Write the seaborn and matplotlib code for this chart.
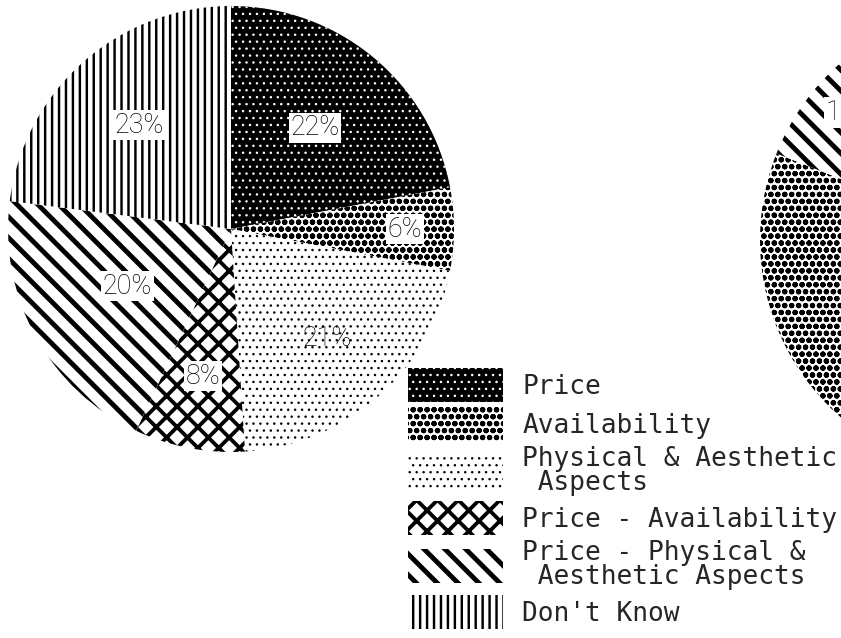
import matplotlib
matplotlib.use("Agg")
import matplotlib.pyplot as plt
import seaborn as sns
from matplotlib.font_manager import FontProperties

# ---------------- data ----------------
categories = ["Price", "Availability", "Physical & Aesthetic\n Aspects",
              "Price - Availability", "Price - Physical &\n Aesthetic Aspects",
              "Don't Know"]
left_values = [22, 6, 21, 8, 20, 23]
# right pie (mostly cut off by the page edge): category index, clockwise from top
right_order = [0, 2, 3, 1, 4, 5]
right_values = [24, 20, 9, 28, 11, 8]

# ---------------- style ----------------
face = ["black", "white", "white", "white", "white", "white"]
hatch_col = ["white", "black", "black", "black", "black", "black"]
hatches = ["...", "ooo", "...", "xx", "\\\\", "|||"]
hatch_lw = [0.6, 1.5, 0.6, 2.2, 2.8, 1.4]
left_lbl_dist = [0.59, 0.78, 0.65, 0.67, 0.53, 0.62]
right_lbl_dist = [0.6, 0.6, 0.6, 0.55, 0.82, 0.6]

sns.set_theme(style="white")
plt.rcParams["font.family"] = ["DejaVu Sans"]

DPI = 125
W, H = 841, 638
fig = plt.figure(figsize=((W + 0.3) / DPI, (H + 0.3) / DPI), dpi=DPI)
fig.patch.set_facecolor("white")
ax = fig.add_axes([0, 0, 1, 1])

pct_props = dict(family=["Roboto", "DejaVu Sans"], weight="light", size=15.5,
                 color="black")
box = dict(facecolor="white", edgecolor="none", pad=1.0)


def style_wedges(wedges, idx):
    for w, i in zip(wedges, idx):
        w.set_facecolor(face[i])
        w.set_edgecolor(hatch_col[i])
        w.set_linewidth(0)
        w.set_hatch(hatches[i])
        if hasattr(w, "set_hatch_linewidth"):
            w.set_hatch_linewidth(hatch_lw[i])


def place_labels(autotexts, center, dists, base=0.6):
    cx, cy = center
    for t, f in zip(autotexts, dists):
        x, y = t.get_position()
        t.set_position((cx + (x - cx) * f / base, cy + (y - cy) * f / base))
        t.set_bbox(box)


# left pie
lc = (231, H - 229)
lw_, _, lat = ax.pie(left_values, startangle=90, counterclock=False, center=lc,
                     radius=223, autopct=lambda p: f"{p:.0f}%", pctdistance=0.6,
                     textprops=pct_props, wedgeprops=dict(linewidth=0))
style_wedges(lw_, range(6))
place_labels(lat, lc, left_lbl_dist)
lat[2].set_bbox(None)

# right pie (clipped at the page edge)
rc = (995, H - 240)
rw_, _, rat = ax.pie(right_values, startangle=90, counterclock=False, center=rc,
                     radius=235, autopct=lambda p: f"{p:.0f}%", pctdistance=0.6,
                     textprops=pct_props, wedgeprops=dict(linewidth=0))
style_wedges(rw_, right_order)
place_labels(rat, rc, right_lbl_dist)
for t, i in zip(rat, right_order):
    # only the Price - Physical label reaches into the visible page
    t.set_visible(i == 4)

ax.set_xlim(0, W + 0.3)
ax.set_ylim(0, H + 0.3)
ax.set_aspect("auto")
ax.axis("off")

# legend
fs_px = 26.3
fs_pt = fs_px * 72 / DPI
box_h = 34 / fs_px
hh = (box_h - 0.245) / 0.65
leg = ax.legend(lw_, categories, loc="upper left",
                bbox_to_anchor=(408 / W, 1 - 368 / H), frameon=False,
                prop=FontProperties(family="DejaVu Sans Mono", size=fs_pt),
                handlelength=95 / fs_px, handleheight=hh,
                handletextpad=0.72, labelspacing=5 / fs_px, borderpad=0,
                borderaxespad=0)
for t in leg.get_texts():
    t.set_linespacing(0.9)
for h, i in zip(leg.legend_handles, range(6)):
    h.set_edgecolor(hatch_col[i])
    h.set_linewidth(0)
    if hasattr(h, "set_hatch_linewidth"):
        h.set_hatch_linewidth(hatch_lw[i])

fig.savefig("out.png", dpi=DPI, facecolor="white")
